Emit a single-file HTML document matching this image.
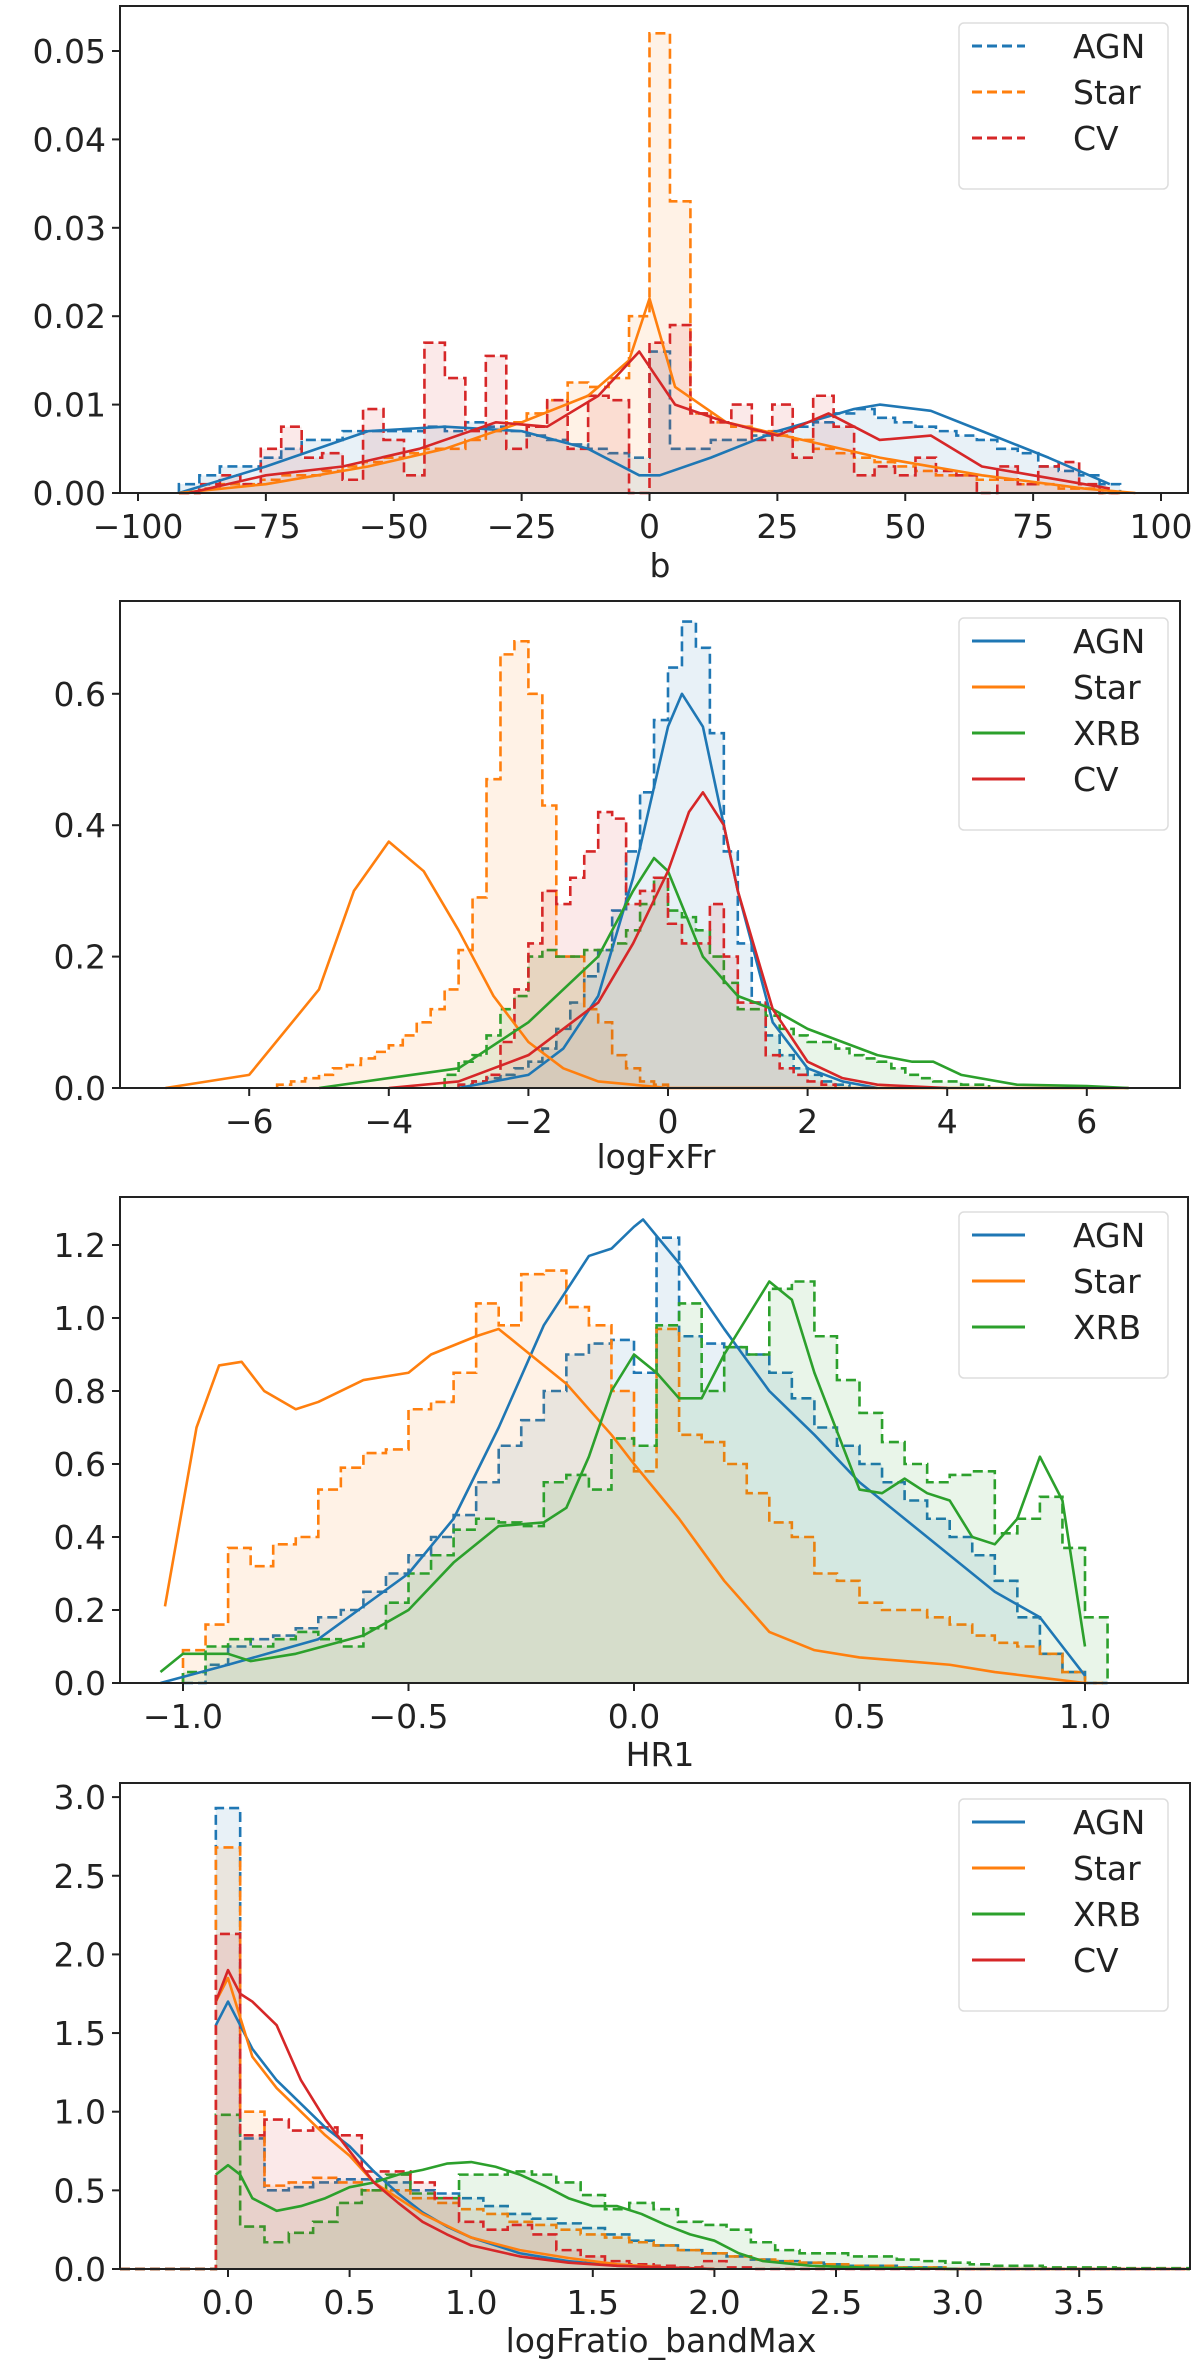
<!DOCTYPE html>
<html><head><meta charset="utf-8">
<style>
html,body{margin:0;padding:0;background:#fff;}
svg{display:block;font-family:"DejaVu Sans","Liberation Sans",sans-serif;}
</style></head>
<body>
<svg id="fig" width="1200" height="2367" viewBox="0 0 1200 2367" xmlns="http://www.w3.org/2000/svg"></svg>
<script>
// ===== Panel 1: b =====
const p1Categories = ["AGN","Star","CV"];
const p1HistStart = -92, p1HistWidth = 4;
const p1HistAGN = [0.001,0.002,0.003,0.003,0.004,0.005,0.006,0.006,0.007,0.007,0.007,0.007,0.0075,0.007,0.008,0.0075,0.007,0.0065,0.006,0.0055,0.005,0.0045,0.004,0.016,0.005,0.005,0.006,0.006,0.0065,0.007,0.0075,0.008,0.009,0.0095,0.0085,0.008,0.0075,0.007,0.0065,0.006,0.005,0.0045,0.003,0.0025,0.002,0.001];
const p1HistStar = [0,0.0005,0.001,0.001,0.0015,0.002,0.002,0.0025,0.003,0.0035,0.004,0.0045,0.005,0.005,0.006,0.007,0.008,0.009,0.0105,0.0125,0.012,0.013,0.02,0.052,0.033,0.009,0.008,0.0075,0.007,0.0065,0.006,0.005,0.0045,0.004,0.0035,0.003,0.0025,0.002,0.002,0.0015,0.0015,0.001,0.001,0.0005,0.0005,0];
const p1HistCV = [0,0.001,0.002,0.001,0.005,0.0075,0.004,0.0045,0.0015,0.0095,0.006,0.002,0.017,0.013,0.007,0.0155,0.005,0.0075,0.0105,0.005,0.011,0.0105,0.0,0.017,0.019,0.009,0.008,0.01,0.006,0.01,0.004,0.011,0.0075,0.002,0.003,0.002,0.004,0.0025,0.002,0.0,0.003,0.001,0.003,0.0035,0.001,0];
const p1KdeAGNx = [-92,-75,-55,-40,-25,-12,-2,2,12,25,40,45,55,65,78,90];
const p1KdeAGNy = [0,0.003,0.007,0.0075,0.007,0.005,0.002,0.002,0.004,0.007,0.0095,0.01,0.0093,0.007,0.004,0.001];
const p1KdeStarx = [-92,-75,-55,-40,-25,-12,-4,0,5,15,30,45,65,85,95];
const p1KdeStary = [0,0.001,0.003,0.005,0.008,0.011,0.015,0.022,0.012,0.008,0.006,0.004,0.002,0.0005,0];
const p1KdeCVx = [-90,-75,-60,-45,-30,-20,-10,-2,5,15,25,35,45,55,65,75,90];
const p1KdeCVy = [0,0.002,0.003,0.005,0.008,0.0075,0.011,0.016,0.01,0.008,0.0065,0.009,0.006,0.0065,0.003,0.002,0.0005];
const p1XTicks = [-100,-75,-50,-25,0,25,50,75,100];
const p1XTickLabels = ["−100","−75","−50","−25","0","25","50","75","100"];
const p1YTicks = [0,0.01,0.02,0.03,0.04,0.05];
const p1YTickLabels = ["0.00","0.01","0.02","0.03","0.04","0.05"];

// ===== Panel 2: logFxFr =====
const p2Categories = ["AGN","Star","XRB","CV"];
const p2HistWidth = 0.2;
const p2StarStart = -5.6;
const p2HistStar = [0.005,0.01,0.015,0.02,0.03,0.035,0.045,0.055,0.065,0.08,0.1,0.12,0.15,0.21,0.29,0.47,0.66,0.68,0.6,0.43,0.2,0.2,0.12,0.1,0.05,0.03,0.01,0.005];
const p2AGNStart = -3.0;
const p2HistAGN = [0.005,0.01,0.015,0.02,0.03,0.04,0.06,0.09,0.13,0.17,0.21,0.27,0.36,0.45,0.56,0.64,0.71,0.67,0.54,0.36,0.22,0.13,0.08,0.05,0.03,0.02,0.01,0.005];
const p2XRBStart = -3.2;
const p2HistXRB = [0.02,0.04,0.05,0.08,0.12,0.14,0.2,0.21,0.2,0.2,0.21,0.21,0.22,0.24,0.28,0.32,0.27,0.26,0.24,0.2,0.16,0.12,0.12,0.11,0.09,0.08,0.07,0.07,0.06,0.05,0.045,0.04,0.03,0.02,0.015,0.01,0.01,0.005,0.005];
const p2CVStart = -3.0;
const p2HistCV = [0.005,0.01,0.02,0.07,0.15,0.22,0.3,0.28,0.32,0.36,0.42,0.41,0.28,0.3,0.32,0.25,0.22,0.22,0.28,0.2,0.13,0.13,0.05,0.03,0.02,0.01,0.005];
const p2KdeAGNx = [-3,-2,-1.5,-1,-0.5,0,0.2,0.5,1,1.5,2,2.5,3];
const p2KdeAGNy = [0,0.02,0.06,0.14,0.32,0.55,0.6,0.55,0.3,0.1,0.03,0.01,0];
const p2KdeStarx = [-7.2,-6,-5,-4.5,-4,-3.5,-3,-2.5,-2,-1.5,-1,0,6.6];
const p2KdeStary = [0,0.02,0.15,0.3,0.375,0.33,0.24,0.14,0.07,0.03,0.01,0,0];
const p2KdeXRBx = [-5,-3,-2,-1,-0.5,-0.2,0,0.5,1,1.5,2,2.5,3,3.5,3.8,4.2,5,6,6.6];
const p2KdeXRBy = [0,0.03,0.1,0.2,0.3,0.35,0.33,0.2,0.14,0.12,0.09,0.07,0.05,0.04,0.04,0.02,0.005,0.003,0];
const p2KdeCVx = [-4,-3,-2,-1,-0.5,0,0.3,0.5,0.8,1,1.5,2,2.5,3,4];
const p2KdeCVy = [0,0.01,0.05,0.13,0.22,0.33,0.42,0.45,0.4,0.3,0.12,0.04,0.015,0.005,0];
const p2XTicks = [-6,-4,-2,0,2,4,6];
const p2XTickLabels = ["−6","−4","−2","0","2","4","6"];
const p2YTicks = [0,0.2,0.4,0.6];
const p2YTickLabels = ["0.0","0.2","0.4","0.6"];

// ===== Panel 3: HR1 =====
const p3Categories = ["AGN","Star","XRB"];
const p3HistStart = -1.0, p3HistWidth = 0.05;
const p3HistStar = [0.09,0.16,0.37,0.32,0.38,0.4,0.53,0.59,0.63,0.64,0.75,0.77,0.85,1.04,0.98,1.12,1.13,1.03,0.98,0.8,0.58,0.97,0.68,0.66,0.6,0.52,0.44,0.4,0.3,0.28,0.22,0.2,0.2,0.18,0.16,0.13,0.11,0.1,0.08,0.03,0.0];
const p3HistAGN = [0.0,0.05,0.1,0.12,0.13,0.15,0.18,0.2,0.25,0.3,0.35,0.4,0.46,0.55,0.65,0.72,0.8,0.9,0.93,0.94,0.85,1.22,0.95,0.93,0.92,0.9,0.85,0.78,0.7,0.65,0.6,0.55,0.5,0.45,0.4,0.35,0.28,0.18,0.08,0.03,0.0];
const p3HistXRB = [0.03,0.1,0.12,0.1,0.12,0.14,0.12,0.1,0.15,0.22,0.3,0.35,0.42,0.45,0.44,0.43,0.55,0.57,0.53,0.67,0.65,0.98,1.04,0.8,0.92,0.9,1.08,1.1,0.95,0.83,0.74,0.66,0.6,0.55,0.57,0.58,0.41,0.45,0.51,0.37,0.18];
const p3KdeAGNx = [-1.05,-0.9,-0.7,-0.5,-0.4,-0.3,-0.2,-0.1,-0.05,0.0,0.02,0.1,0.2,0.3,0.4,0.5,0.6,0.7,0.8,0.9,0.95,1.0];
const p3KdeAGNy = [0,0.05,0.12,0.3,0.45,0.7,0.98,1.17,1.19,1.25,1.27,1.15,0.97,0.8,0.68,0.55,0.45,0.35,0.25,0.18,0.1,0.02];
const p3KdeStarx = [-1.04,-0.97,-0.92,-0.87,-0.82,-0.75,-0.7,-0.6,-0.5,-0.45,-0.35,-0.3,-0.25,-0.15,-0.05,0.0,0.1,0.2,0.3,0.4,0.5,0.6,0.7,0.8,0.9,1.0];
const p3KdeStary = [0.21,0.7,0.87,0.88,0.8,0.75,0.77,0.83,0.85,0.9,0.95,0.97,0.92,0.82,0.68,0.6,0.45,0.28,0.14,0.09,0.07,0.06,0.05,0.03,0.015,0.0];
const p3KdeXRBx = [-1.05,-1.0,-0.9,-0.85,-0.75,-0.6,-0.5,-0.4,-0.3,-0.2,-0.15,-0.1,-0.05,0.0,0.05,0.1,0.15,0.2,0.3,0.35,0.4,0.5,0.55,0.6,0.65,0.7,0.75,0.8,0.85,0.9,0.95,1.0];
const p3KdeXRBy = [0.03,0.08,0.08,0.06,0.08,0.13,0.2,0.33,0.43,0.44,0.48,0.62,0.8,0.9,0.85,0.78,0.78,0.9,1.1,1.05,0.85,0.53,0.52,0.56,0.52,0.5,0.4,0.38,0.45,0.62,0.5,0.1];
const p3XTicks = [-1.0,-0.5,0.0,0.5,1.0];
const p3XTickLabels = ["−1.0","−0.5","0.0","0.5","1.0"];
const p3YTicks = [0,0.2,0.4,0.6,0.8,1.0,1.2];
const p3YTickLabels = ["0.0","0.2","0.4","0.6","0.8","1.0","1.2"];

// ===== Panel 4: logFratio_bandMax =====
const p4Categories = ["AGN","Star","XRB","CV"];
const p4HistStart = -0.05, p4HistWidth = 0.1;
const p4HistAGN = [2.93,0.83,0.5,0.52,0.55,0.57,0.57,0.55,0.5,0.48,0.45,0.4,0.35,0.32,0.29,0.26,0.22,0.18,0.15,0.12,0.1,0.08,0.06,0.05,0.04,0.03,0.02,0.02,0.01,0.01];
const p4HistStar = [2.68,1.0,0.53,0.55,0.58,0.55,0.5,0.5,0.45,0.42,0.38,0.35,0.3,0.28,0.25,0.22,0.2,0.17,0.15,0.12,0.1,0.08,0.06,0.05,0.04,0.03,0.02,0.02,0.01,0.01];
const p4HistXRB = [0.98,0.27,0.17,0.23,0.3,0.42,0.5,0.6,0.48,0.45,0.6,0.6,0.62,0.6,0.55,0.47,0.38,0.42,0.38,0.3,0.28,0.25,0.17,0.12,0.1,0.1,0.08,0.08,0.06,0.05,0.04,0.03,0.02,0.02,0.01,0.01,0.01,0.005,0.005,0.005];
const p4HistCV = [2.13,0.85,0.95,0.88,0.9,0.85,0.62,0.62,0.55,0.45,0.3,0.25,0.28,0.22,0.12,0.08,0.05,0.03,0.02,0.01,0.05,0.01,0.0];
const p4KdeAGNx = [-0.05,0.0,0.05,0.1,0.2,0.3,0.4,0.5,0.6,0.7,0.8,0.9,1.0,1.2,1.4,1.6,1.8,2.0];
const p4KdeAGNy = [1.55,1.7,1.55,1.4,1.2,1.05,0.9,0.78,0.62,0.48,0.36,0.27,0.2,0.1,0.05,0.02,0.01,0];
const p4KdeStarx = [-0.05,0.0,0.05,0.1,0.2,0.3,0.4,0.5,0.6,0.7,0.8,1.0,1.2,1.4,1.6,1.8,2.0];
const p4KdeStary = [1.7,1.85,1.6,1.35,1.15,1.0,0.85,0.72,0.55,0.45,0.35,0.2,0.12,0.07,0.03,0.01,0];
const p4KdeXRBx = [-0.05,0.0,0.05,0.1,0.2,0.3,0.4,0.5,0.6,0.7,0.8,0.9,1.0,1.1,1.2,1.3,1.4,1.5,1.6,1.7,1.8,1.9,2.0,2.1,2.2,2.4,2.6,3.0];
const p4KdeXRBy = [0.6,0.66,0.6,0.45,0.37,0.4,0.45,0.52,0.55,0.6,0.63,0.67,0.68,0.65,0.6,0.53,0.45,0.4,0.4,0.35,0.28,0.22,0.18,0.1,0.05,0.02,0.01,0];
const p4KdeCVx = [-0.05,0.0,0.05,0.1,0.2,0.3,0.4,0.5,0.6,0.7,0.8,0.9,1.0,1.2,1.4,1.6,1.8,2.0];
const p4KdeCVy = [1.7,1.9,1.75,1.7,1.55,1.2,0.95,0.75,0.55,0.42,0.3,0.22,0.15,0.08,0.04,0.02,0.01,0];
const p4XTicks = [0,0.5,1.0,1.5,2.0,2.5,3.0,3.5];
const p4XTickLabels = ["0.0","0.5","1.0","1.5","2.0","2.5","3.0","3.5"];
const p4YTicks = [0,0.5,1.0,1.5,2.0,2.5,3.0];
const p4YTickLabels = ["0.0","0.5","1.0","1.5","2.0","2.5","3.0"];

const COLORS = {AGN:"#1f77b4",Star:"#ff7f0e",XRB:"#2ca02c",CV:"#d62728"};
const NS = "http://www.w3.org/2000/svg";
const svg = document.getElementById("fig");

function mk(tag, attrs, parent){
  const e = document.createElementNS(NS, tag);
  for (const k in attrs) e.setAttribute(k, attrs[k]);
  (parent||svg).appendChild(e);
  return e;
}

function drawPanel(P){
  const g = mk("g", {});
  
  
  const sx = v => P.x0px + (v - P.x0v) * P.xs;
  const sy = v => P.y0px - v * P.ys;
  const clipId = "clip-" + P.name;
  const cp = mk("clipPath", {id: clipId}, g);
  mk("rect", {x:P.left, y:P.top, width:P.right-P.left, height:P.bottom-P.top+2}, cp);
  const plot = mk("g", {"clip-path":"url(#"+clipId+")"}, g);
  
  
  // histograms
  P.hists.forEach(h => {
    let d = "";
    const x0 = sx(h.start);
    d += "M" + (P.padLeft ? P.left : x0) + "," + sy(0) + " L" + x0 + "," + sy(0);
    h.values.forEach((v, i) => {
      const xa = sx(h.start + i*h.width), xb = sx(h.start + (i+1)*h.width);
      d += " L" + xa + "," + sy(v) + " L" + xb + "," + sy(v);
    });
    const xe = sx(h.start + h.values.length*h.width);
    d += " L" + xe + "," + sy(0);
    if (P.padLeft) d += " L" + P.right + "," + sy(0);
    const fill = mk("path", {d: d + " Z", fill: COLORS[h.cat], "fill-opacity": 0.1, stroke: "none"}, plot);
    
    
    const line = mk("path", {d: d, fill: "none", stroke: COLORS[h.cat], "stroke-width": 2.6, "stroke-dasharray": "10,5"}, plot);
    
    
  });
  // KDE lines
  P.kdes.forEach(k => {
    const pts = k.x.map((xv, i) => sx(xv) + "," + sy(k.y[i])).join(" ");
    const pl = mk("polyline", {points: pts, fill: "none", stroke: COLORS[k.cat], "stroke-width": 2.6, "stroke-linejoin": "round"}, plot);
    
    
  });
  // frame
  const fr = mk("rect", {x:P.left, y:P.top, width:P.right-P.left, height:P.bottom-P.top, fill:"none", stroke:"#222", "stroke-width":2}, g);
  
  
  // y ticks
  P.yTicks.forEach((t, i) => {
    const y = sy(t);
    mk("line", {x1:P.left-8, x2:P.left, y1:y, y2:y, stroke:"#222", "stroke-width":2}, g);
    const tx = mk("text", {x:P.left-14, y:y+12, "text-anchor":"end", "font-size":33, fill:"#222"}, g);
    tx.textContent = P.yLabels[i];
    
    
  });
  // x ticks
  P.xTicks.forEach((t, i) => {
    const x = sx(t);
    mk("line", {x1:x, x2:x, y1:P.bottom, y2:P.bottom+8, stroke:"#222", "stroke-width":2}, g);
    const tx = mk("text", {x:x, y:P.bottom+45, "text-anchor":"middle", "font-size":33, fill:"#222"}, g);
    tx.textContent = P.xLabels[i];
    
    
  });
  const xt = mk("text", {x:(P.left+P.right)/2 + 6, y:P.xTitleY, "text-anchor":"middle", "font-size":33, fill:"#222"}, g);
  xt.textContent = P.xTitle;
  
  
  // legend
  const lg = mk("g", {}, g);
  
  
  const n = P.cats.length;
  mk("rect", {x:959, y:P.legTop, width:209, height:n*46+28, rx:5, fill:"#fff", "fill-opacity":0.85, stroke:"#ddd", "stroke-width":1.5}, lg);
  P.cats.forEach((c, i) => {
    const y = P.legTop + 23 + i*46;
    const ln = mk("line", {x1:972, x2:1025, y1:y, y2:y, stroke:COLORS[c], "stroke-width":3}, lg);
    if (P.legDashed) ln.setAttribute("stroke-dasharray", "10,5");
    
    
    const tx = mk("text", {x:1073, y:y+12, "font-size":33, fill:"#222"}, lg);
    tx.textContent = c;
    
    
  });
}

drawPanel({name:"panel-b", left:120, right:1188, top:6, bottom:493,
  x0v:-100, x0px:138, xs:1023/200, y0px:493, ys:8840,
  hists:[{cat:"AGN",start:p1HistStart,width:p1HistWidth,values:p1HistAGN},
         {cat:"Star",start:p1HistStart,width:p1HistWidth,values:p1HistStar},
         {cat:"CV",start:p1HistStart,width:p1HistWidth,values:p1HistCV}],
  kdes:[{cat:"AGN",x:p1KdeAGNx,y:p1KdeAGNy},{cat:"Star",x:p1KdeStarx,y:p1KdeStary},{cat:"CV",x:p1KdeCVx,y:p1KdeCVy}],
  xTicks:p1XTicks, xLabels:p1XTickLabels, yTicks:p1YTicks, yLabels:p1YTickLabels,
  xTitle:"b", xTitleY:577, cats:p1Categories, legTop:23, legDashed:true});

drawPanel({name:"panel-logfxfr", left:120, right:1180, top:601, bottom:1088,
  x0v:0, x0px:668, xs:69.8, y0px:1088, ys:657,
  hists:[{cat:"AGN",start:p2AGNStart,width:p2HistWidth,values:p2HistAGN},
         {cat:"Star",start:p2StarStart,width:p2HistWidth,values:p2HistStar},
         {cat:"XRB",start:p2XRBStart,width:p2HistWidth,values:p2HistXRB},
         {cat:"CV",start:p2CVStart,width:p2HistWidth,values:p2HistCV}],
  kdes:[{cat:"AGN",x:p2KdeAGNx,y:p2KdeAGNy},{cat:"Star",x:p2KdeStarx,y:p2KdeStary},{cat:"XRB",x:p2KdeXRBx,y:p2KdeXRBy},{cat:"CV",x:p2KdeCVx,y:p2KdeCVy}],
  xTicks:p2XTicks, xLabels:p2XTickLabels, yTicks:p2YTicks, yLabels:p2YTickLabels,
  xTitle:"logFxFr", xTitleY:1168, cats:p2Categories, legTop:618, legDashed:false});

drawPanel({name:"panel-hr1", left:120, right:1188, top:1197, bottom:1683,
  x0v:0, x0px:634, xs:451, y0px:1683, ys:365,
  hists:[{cat:"AGN",start:p3HistStart,width:p3HistWidth,values:p3HistAGN},
         {cat:"Star",start:p3HistStart,width:p3HistWidth,values:p3HistStar},
         {cat:"XRB",start:p3HistStart,width:p3HistWidth,values:p3HistXRB}],
  kdes:[{cat:"AGN",x:p3KdeAGNx,y:p3KdeAGNy},{cat:"Star",x:p3KdeStarx,y:p3KdeStary},{cat:"XRB",x:p3KdeXRBx,y:p3KdeXRBy}],
  xTicks:p3XTicks, xLabels:p3XTickLabels, yTicks:p3YTicks, yLabels:p3YTickLabels,
  xTitle:"HR1", xTitleY:1766, cats:p3Categories, legTop:1212, legDashed:false});

drawPanel({name:"panel-logfratio", left:120, right:1190, top:1783, bottom:2269, padLeft:true,
  x0v:0, x0px:228, xs:243.2, y0px:2269, ys:157.3,
  hists:[{cat:"AGN",start:p4HistStart,width:p4HistWidth,values:p4HistAGN},
         {cat:"Star",start:p4HistStart,width:p4HistWidth,values:p4HistStar},
         {cat:"XRB",start:p4HistStart,width:p4HistWidth,values:p4HistXRB},
         {cat:"CV",start:p4HistStart,width:p4HistWidth,values:p4HistCV}],
  kdes:[{cat:"AGN",x:p4KdeAGNx,y:p4KdeAGNy},{cat:"Star",x:p4KdeStarx,y:p4KdeStary},{cat:"XRB",x:p4KdeXRBx,y:p4KdeXRBy},{cat:"CV",x:p4KdeCVx,y:p4KdeCVy}],
  xTicks:p4XTicks, xLabels:p4XTickLabels, yTicks:p4YTicks, yLabels:p4YTickLabels,
  xTitle:"logFratio_bandMax", xTitleY:2352, cats:p4Categories, legTop:1799, legDashed:false});
</script>
</body></html>
